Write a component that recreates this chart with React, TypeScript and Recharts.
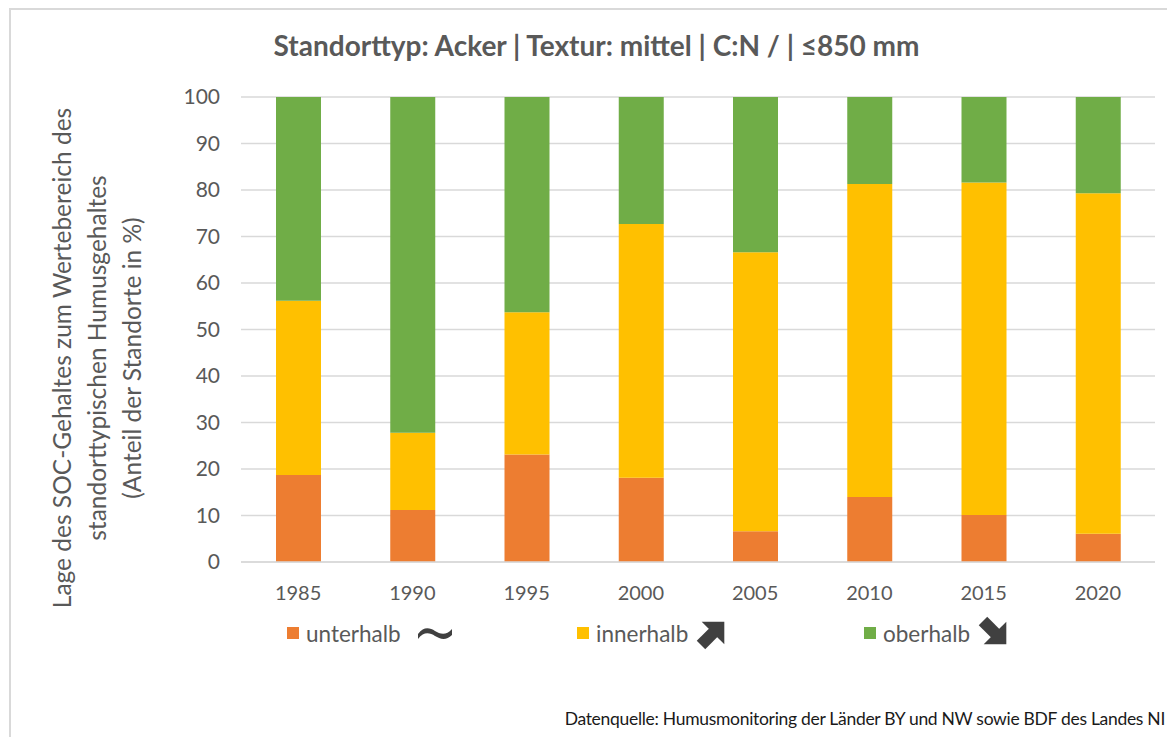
import { Bar, BarChart, CartesianGrid, XAxis, YAxis } from 'recharts';

const YEARS = ['1985', '1990', '1995', '2000', '2005', '2010', '2015', '2020'];
const UNTERHALB = [18.7, 11.2, 23.1, 18.1, 6.6, 14.0, 10.1, 6.1];
const INNERHALB = [37.5, 16.6, 30.6, 54.6, 60.0, 67.3, 71.5, 73.2];
const OBERHALB = [43.8, 72.2, 46.3, 27.3, 33.4, 18.7, 18.4, 20.7];
const Y_TICKS = [0, 10, 20, 30, 40, 50, 60, 70, 80, 90, 100];

const SERIES = [
  { key: 'unterhalb', name: 'unterhalb', color: '#ED7D31', trend: 'flat' },
  { key: 'innerhalb', name: 'innerhalb', color: '#FFC000', trend: 'up' },
  { key: 'oberhalb', name: 'oberhalb', color: '#70AD47', trend: 'down' },
];

const TITLE = 'Standorttyp: Acker | Textur: mittel | C:N / | ≤850 mm';
const Y_LABEL = [
  'Lage des SOC-Gehaltes zum Wertebereich  des',
  'standorttypischen Humusgehaltes',
  '(Anteil der Standorte in %)',
];
const SOURCE = 'Datenquelle: Humusmonitoring der Länder BY und NW sowie BDF des Landes NI';

const data = YEARS.map((year, i) => ({
  year,
  unterhalb: UNTERHALB[i],
  innerhalb: INNERHALB[i],
  oberhalb: OBERHALB[i],
}));

const FONT = 'Lato, "Open Sans", sans-serif';
const TEXT = '#595959';

function TrendIcon({ trend }: { trend: string }) {
  if (trend === 'flat') {
    return (
      <svg width={36} height={16} viewBox="0 0 36 16">
        <path d="M1,9 C7,1 13,3 18,6 C23,9 29,11 35,4 L35,10 C29,16 23,14 18,11 C13,8 7,6 1,14 Z" fill="#404040" />
      </svg>
    );
  }
  const rot = trend === 'up' ? -45 : 45;
  return (
    <svg width={34} height={34} viewBox="0 0 34 34">
      <g transform={`rotate(${rot} 17 17)`}>
        <rect x={0} y={11} width={20} height={12} fill="#404040" />
        <polygon points="17,1 33,17 17,33" fill="#404040" />
      </g>
    </svg>
  );
}

// three-line rotated axis title, left of the y ticks
function YLabel() {
  const cy = 350;
  const xs = [53, 88, 123];
  return (
    <g>
      {Y_LABEL.map((line, i) => (
        <text
          key={i}
          x={xs[i]}
          y={cy}
          transform={`rotate(-90 ${xs[i]} ${cy})`}
          textAnchor="middle"
          dominantBaseline="central"
          fill={TEXT}
          fontSize={24.5}
          fontFamily={FONT}
        >
          {line}
        </text>
      ))}
    </g>
  );
}

const LEGEND_X = [279, 569, 856];

export default function App() {
  return (
    <div style={{ position: 'relative', width: 1167, height: 729, fontFamily: FONT, overflow: 'hidden' }}>
      <div
        style={{
          position: 'absolute',
          left: 1,
          top: 0,
          width: 1180,
          height: 740,
          borderTop: '2px solid #d9d9d9',
          borderLeft: '2px solid #d9d9d9',
        }}
      />
      <div
        style={{
          position: 'absolute',
          left: 0,
          top: 20,
          width: 1177,
          textAlign: 'center',
          fontSize: 28,
          fontWeight: 'bold',
          color: TEXT,
          whiteSpace: 'nowrap',
        }}
      >
        {TITLE}
      </div>
      <div style={{ position: 'absolute', left: 0, top: 0 }}>
        <BarChart width={1167} height={729} data={data} margin={{ top: 89, right: 20, bottom: 145, left: 153 }}>
          <CartesianGrid vertical={false} stroke="#d9d9d9" strokeWidth={1.5} />
          <XAxis
            dataKey="year"
            tickLine={false}
            axisLine={{ stroke: '#d9d9d9', strokeWidth: 1.5 }}
            tickMargin={18}
            height={30}
            tick={{ fontSize: 20, fill: TEXT, fontFamily: FONT }}
          />
          <YAxis
            domain={[0, 100]}
            ticks={Y_TICKS}
            interval={0}
            width={80}
            tickLine={false}
            axisLine={false}
            tickMargin={15}
            tick={{ fontSize: 21, fill: TEXT, fontFamily: FONT }}
          />
          {SERIES.map((s) => (
            <Bar key={s.key} dataKey={s.key} name={s.name} stackId="a" fill={s.color} barSize={45} isAnimationActive={false} />
          ))}
          <YLabel />
        </BarChart>
      </div>
      {SERIES.map((s, i) => (
        <div
          key={s.key}
          style={{
            position: 'absolute',
            left: LEGEND_X[i],
            top: 607,
            height: 36,
            display: 'flex',
            alignItems: 'center',
            fontSize: 22.5,
            color: TEXT,
          }}
        >
          <span style={{ display: 'inline-block', width: 12, height: 12, background: s.color, marginRight: 7 }} />
          <span style={{ marginRight: s.trend === 'flat' ? 16 : 8 }}>{s.name}</span>
          <TrendIcon trend={s.trend} />
        </div>
      ))}
      <div
        style={{
          position: 'absolute',
          right: 10,
          top: 700,
          fontSize: 17.5,
          color: '#1a1a1a',
          whiteSpace: 'nowrap',
          letterSpacing: -0.3,
        }}
      >
        {SOURCE}
      </div>
    </div>
  );
}
